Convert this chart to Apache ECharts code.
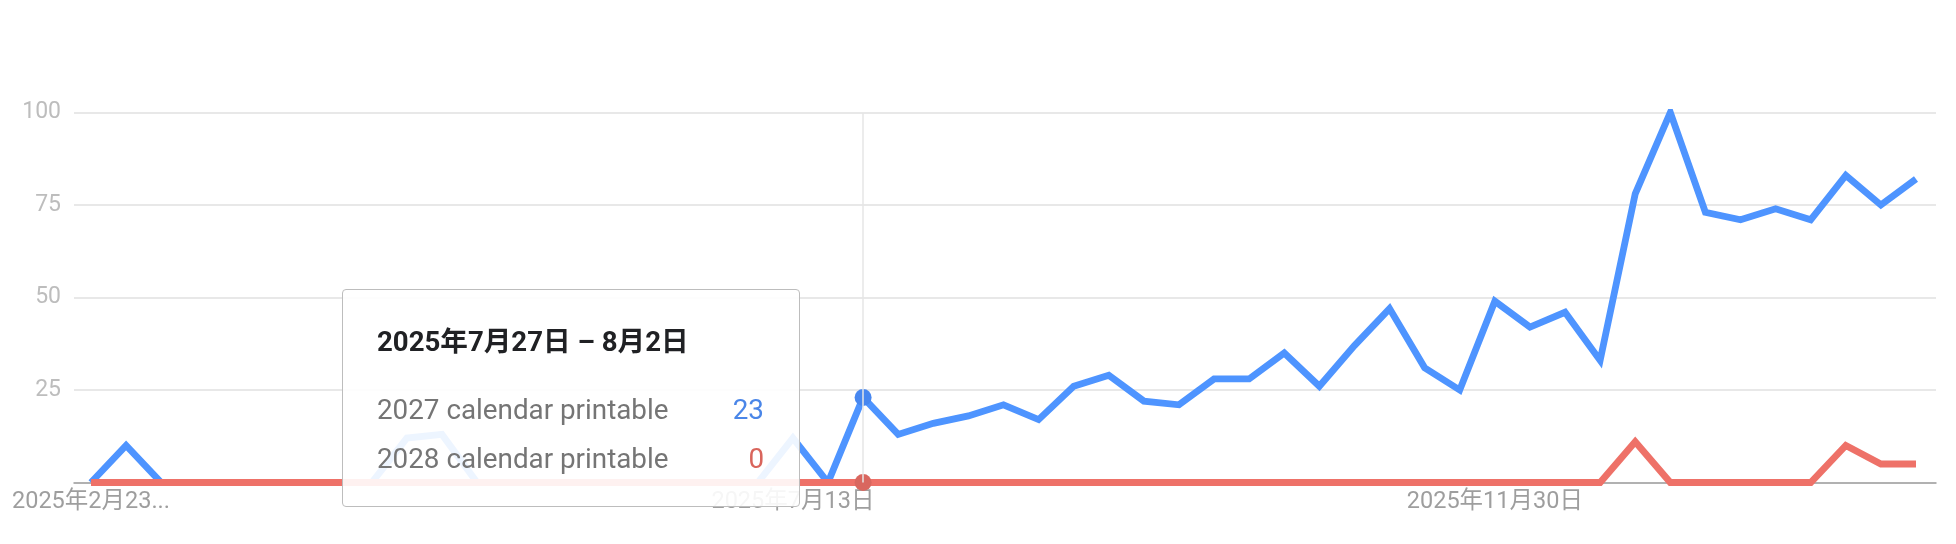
<!DOCTYPE html>
<html>
<head>
<meta charset="utf-8">
<script src="https://cdn.jsdelivr.net/npm/echarts@6/dist/echarts.min.js"></script>
<style>
html,body{margin:0;padding:0;background:#fff;}
#chart{width:1956px;height:544px;}
</style>
</head>
<body>
<div id="chart"></div>
<script>
// ---- data ----
const categories = [
  '2025-02-23','2025-03-02','2025-03-09','2025-03-16','2025-03-23','2025-03-30','2025-04-06','2025-04-13',
  '2025-04-20','2025-04-27','2025-05-04','2025-05-11','2025-05-18','2025-05-25','2025-06-01','2025-06-08',
  '2025-06-15','2025-06-22','2025-06-29','2025-07-06','2025-07-13','2025-07-20','2025-07-27','2025-08-03',
  '2025-08-10','2025-08-17','2025-08-24','2025-08-31','2025-09-07','2025-09-14','2025-09-21','2025-09-28',
  '2025-10-05','2025-10-12','2025-10-19','2025-10-26','2025-11-02','2025-11-09','2025-11-16','2025-11-23',
  '2025-11-30','2025-12-07','2025-12-14','2025-12-21','2025-12-28','2026-01-04','2026-01-11','2026-01-18',
  '2026-01-25','2026-02-01','2026-02-08','2026-02-15','2026-02-22'
];
const series2027 = [
  0,10,0,0,0,0,0,0,0,12,13,0,0,0,0,0,0,0,0,0,12,0,23,13,
  16,18,21,17,26,29,22,21,28,28,35,26,37,47,31,25,49,42,46,33,
  78,100,73,71,74,71,83,75,82
];
const series2028 = [
  0,0,0,0,0,0,0,0,0,0,0,0,0,0,0,0,0,0,0,0,0,0,0,0,
  0,0,0,0,0,0,0,0,0,0,0,0,0,0,0,0,0,0,0,0,
  11,0,0,0,0,0,10,5,5
];
const seriesNames = ['2027 calendar printable', '2028 calendar printable'];
const tickIndex = [0, 20, 40];
const tickLabels = ['2025年2月23...', '2025年7月13日', '2025年11月30日'];
const yTicks = [0, 25, 50, 75, 100];
const hoverIndex = 22;

// ---- styles ----
const BLUE = '#4787f0';
const RED = '#d9675f';
const FONT = "Roboto, 'Noto Sans CJK SC', sans-serif";

function weekRange(dateStr) {
  const d = new Date(dateStr + 'T00:00:00Z');
  const e = new Date(d.getTime() + 6 * 86400000);
  const a = d.getUTCFullYear() + '年' + (d.getUTCMonth() + 1) + '月' + d.getUTCDate() + '日';
  const b = (e.getUTCMonth() + 1) + '月' + e.getUTCDate() + '日';
  return a + ' – ' + b;
}

const chart = echarts.init(document.getElementById('chart'), null, {renderer: 'canvas'});
const colors = [BLUE, RED];
const valueColors = ['#4a86e8', '#d9655c'];

chart.setOption({
  animation: false,
  backgroundColor: '#ffffff',
  grid: {left: 74, right: 20, top: 112.5, bottom: 61.5, containLabel: false},
  xAxis: {
    type: 'value',
    min: -0.484,
    max: 52.57,
    axisLine: {show: true, lineStyle: {color: '#9e9e9e', width: 1.5}},
    axisTick: {show: false},
    splitLine: {show: false},
    axisLabel: {
      customValues: tickIndex,
      color: '#9e9e9e',
      fontFamily: FONT,
      fontSize: 23.5,
      margin: 8,
      formatter: function (v) {
        const k = tickIndex.indexOf(Math.round(v));
        return k >= 0 ? tickLabels[k] : '';
      }
    }
  },
  yAxis: {
    type: 'value',
    min: 0,
    max: 100,
    interval: 25,
    axisLine: {show: false},
    axisTick: {show: false},
    splitLine: {show: true, lineStyle: {color: '#e0e0e0', width: 1.5}},
    axisLabel: {
      color: '#bdbdbd',
      fontFamily: FONT,
      fontSize: 23,
      margin: 13,
      formatter: function (v) { return (v === yTicks[0]) ? '' : String(v); }
    }
  },
  tooltip: {
    trigger: 'axis',
    alwaysShowContent: true,
    showDelay: 0,
    hideDelay: 0,
    transitionDuration: 0,
    enterable: false,
    confine: false,
    axisPointer: {
      type: 'line',
      snap: true,
      lineStyle: {color: '#e6e6e6', width: 1.5, type: 'solid'},
      label: {show: false}
    },
    backgroundColor: 'rgba(255,255,255,0.9)',
    borderColor: '#bdbdbd',
    borderWidth: 1.5,
    padding: 0,
    position: [342, 289],
    extraCssText: 'box-shadow:none;border-radius:4px;width:458px;height:218px;box-sizing:border-box;',
    formatter: function (params) {
      const idx = params[0].dataIndex;
      let html = '<div style="padding:32px 35px 0 34px;font-family:' + FONT.replace(/"/g, "'") + ';">';
      html += '<div style="font-weight:bold;font-size:27.6px;line-height:40px;color:#202124;height:40px;">' + weekRange(categories[idx]) + '</div>';
      html += '<div style="height:23px"></div>';
      params.forEach(function (p) {
        html += '<div style="display:flex;justify-content:space-between;font-size:27.8px;line-height:49px;height:49px;">' +
          '<span style="color:#757575">' + p.seriesName + '</span>' +
          '<span style="color:' + valueColors[p.seriesIndex] + '">' + p.value[1] + '</span></div>';
      });
      html += '</div>';
      return html;
    }
  },
  series: [
    {
      name: seriesNames[0],
      type: 'line',
      data: series2027.map(function (v, i) { return [i, v]; }),
      showSymbol: false,
      symbol: 'circle',
      symbolSize: 17,
      color: colors[0],
      lineStyle: {color: colors[0], width: 6.8, join: 'miter', cap: 'butt'},
      itemStyle: {color: colors[0]},
      emphasis: {scale: false, lineStyle: {width: 6.8}},
      z: 2
    },
    {
      name: seriesNames[1],
      type: 'line',
      data: series2028.map(function (v, i) { return [i, v]; }),
      showSymbol: false,
      symbol: 'circle',
      symbolSize: 17,
      color: colors[1],
      lineStyle: {color: colors[1], width: 6.8, join: 'miter', cap: 'butt'},
      itemStyle: {color: colors[1]},
      emphasis: {scale: false, lineStyle: {width: 6.8}},
      z: 3
    }
  ]
});

chart.dispatchAction({type: 'showTip', seriesIndex: 0, dataIndex: hoverIndex});
setTimeout(function () {
  chart.dispatchAction({type: 'showTip', seriesIndex: 0, dataIndex: hoverIndex});
}, 50);
</script>
</body>
</html>
